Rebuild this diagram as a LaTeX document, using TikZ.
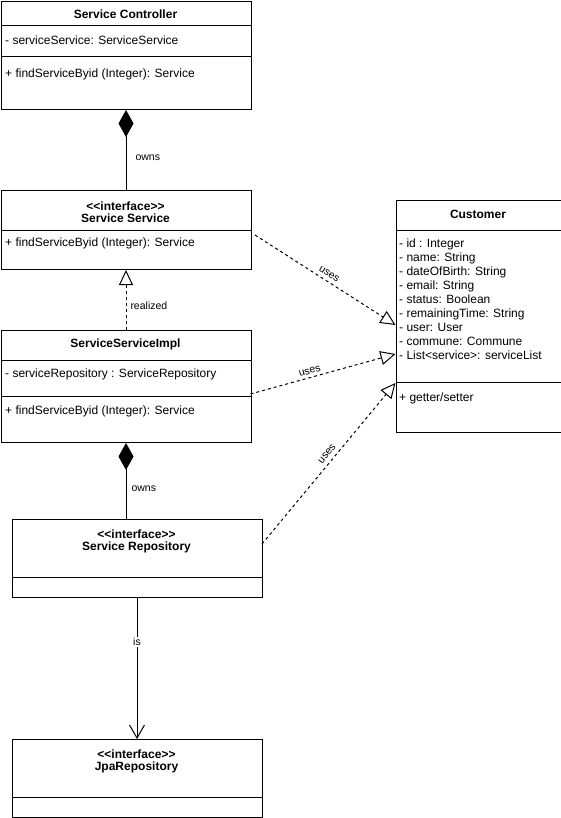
\documentclass[tikz,border=0pt]{standalone}
\usepackage{fontspec}
\setmainfont{Liberation Sans}
\usetikzlibrary{arrows.meta}
\newcommand{\stereo}[1]{<{}<#1>{}>}
\begin{document}
\begin{tikzpicture}[x=1pt,y=-1pt,
  classbox/.style={draw, line width=1pt, anchor=north west, inner sep=0pt},
  txt/.style={anchor=west, font=\fontsize{12}{14}\selectfont, inner sep=0pt},
  ttl/.style={font=\fontsize{12}{14}\selectfont\bfseries, align=center, inner sep=0pt},
  divider/.style={line width=1pt},
  elabel/.style={font=\fontsize{10.5}{12}\selectfont, inner sep=1pt},
  owns/.style={line width=1pt, {Diamond[length=27pt,width=15pt]}-},
  realize/.style={line width=1pt, dash pattern=on 3pt off 3pt, -{Triangle[open,length=15pt,width=14pt]}},
  uses/.style={line width=1pt, dash pattern=on 3pt off 3pt, -{Triangle[open,length=15pt,width=14pt]}},
  assoc/.style={line width=1pt, -{Straight Barb[length=13pt,width=15pt]}}
]
\useasboundingbox (0,0) rectangle (561,818);

% Service Controller
\node[classbox, minimum width=250pt, minimum height=108pt] (ctrl) at (0.5,1) {};
\draw[divider] (0.5,26) -- (250.5,26);
\draw[divider] (0.5,57) -- (250.5,57);
\node[ttl] (ctrlT) at (125.5,14) {Service Controller};
\node[txt] (ctrlA) at (5,40) {- serviceService: ServiceService};
\node[txt] (ctrlM) at (5,74) {+ findServiceByid (Integer): Service};

% Service Service
\node[classbox, minimum width=250pt, minimum height=79pt] (svc) at (0.5,190) {};
\draw[divider] (0.5,230) -- (250.5,230);
\node[ttl] (svcT) at (125.5,212) {\stereo{interface}\\[-2pt]Service Service};
\node[txt] (svcM) at (5,243) {+ findServiceByid (Integer): Service};

% ServiceServiceImpl
\node[classbox, minimum width=250pt, minimum height=112pt] (impl) at (0.5,330) {};
\draw[divider] (0.5,360) -- (250.5,360);
\draw[divider] (0.5,396) -- (250.5,396);
\node[ttl] (implT) at (125.5,344) {ServiceServiceImpl};
\node[txt] (implA) at (5,374) {- serviceRepository : ServiceRepository};
\node[txt] (implM) at (5,411) {+ findServiceByid (Integer): Service};

% Service Repository
\node[classbox, minimum width=250pt, minimum height=78pt] (repo) at (11.5,519) {};
\draw[divider] (11.5,577) -- (261.5,577);
\node[ttl] (repoT) at (136.5,541) {\stereo{interface}\\[-2pt]Service Repository};

% JpaRepository
\node[classbox, minimum width=250pt, minimum height=78pt] (jpa) at (11.5,739) {};
\draw[divider] (11.5,797) -- (261.5,797);
\node[ttl] (jpaT) at (136.5,761) {\stereo{interface}\\[-2pt]JpaRepository};

% Customer
\node[classbox, minimum width=165pt, minimum height=232pt] (cust) at (395.5,200) {};
\draw[divider] (395.5,230) -- (560.5,230);
\draw[divider] (395.5,382) -- (560.5,382);
\node[ttl] (custT) at (478,214) {Customer};
\node[txt, anchor=north west, align=left, font=\fontsize{12}{14}\selectfont] (custA) at (399,239)
  {- id : Integer\\
   - name: String\\
   - dateOfBirth: String\\
   - email: String\\
   - status: Boolean\\
   - remainingTime: String\\
   - user: User\\
   - commune: Commune\\
   - List<service>: serviceList};
\node[txt] (custM) at (399,398) {+ getter/setter};

% connector end points on the Customer box
\coordinate (u1s) at (255,235);
\coordinate (u1e) at (395.5,325);
\coordinate (u2s) at (250.5,394);
\coordinate (u2e) at (395.5,354);
\coordinate (u3s) at (262,544);
\coordinate (u3e) at (395.5,383);

% composition and realization
\draw[owns] (ctrl.south) -- node[elabel, anchor=west, pos=0.6, xshift=8pt] {owns} (svc.north);
\draw[realize] (impl.north) -- node[elabel, anchor=west, pos=0.4, xshift=3pt] {realized} (svc.south);
\draw[owns] (impl.south) -- node[elabel, anchor=west, pos=0.6, xshift=4pt] {owns} (impl.south |- repo.north);
\draw[assoc] (repo.south) -- node[elabel, fill=white, pos=0.31] {is} (jpa.north);

% dependencies on Customer
\draw[uses] (u1s) -- node[elabel, sloped, above=3pt, pos=0.5] {uses} (u1e);
\draw[uses] (u2s) -- node[elabel, sloped, above=2pt, pos=0.42] {uses} (u2e);
\draw[uses] (u3s) -- node[elabel, sloped, above=3pt, pos=0.53] {uses} (u3e);
\end{tikzpicture}
\end{document}
